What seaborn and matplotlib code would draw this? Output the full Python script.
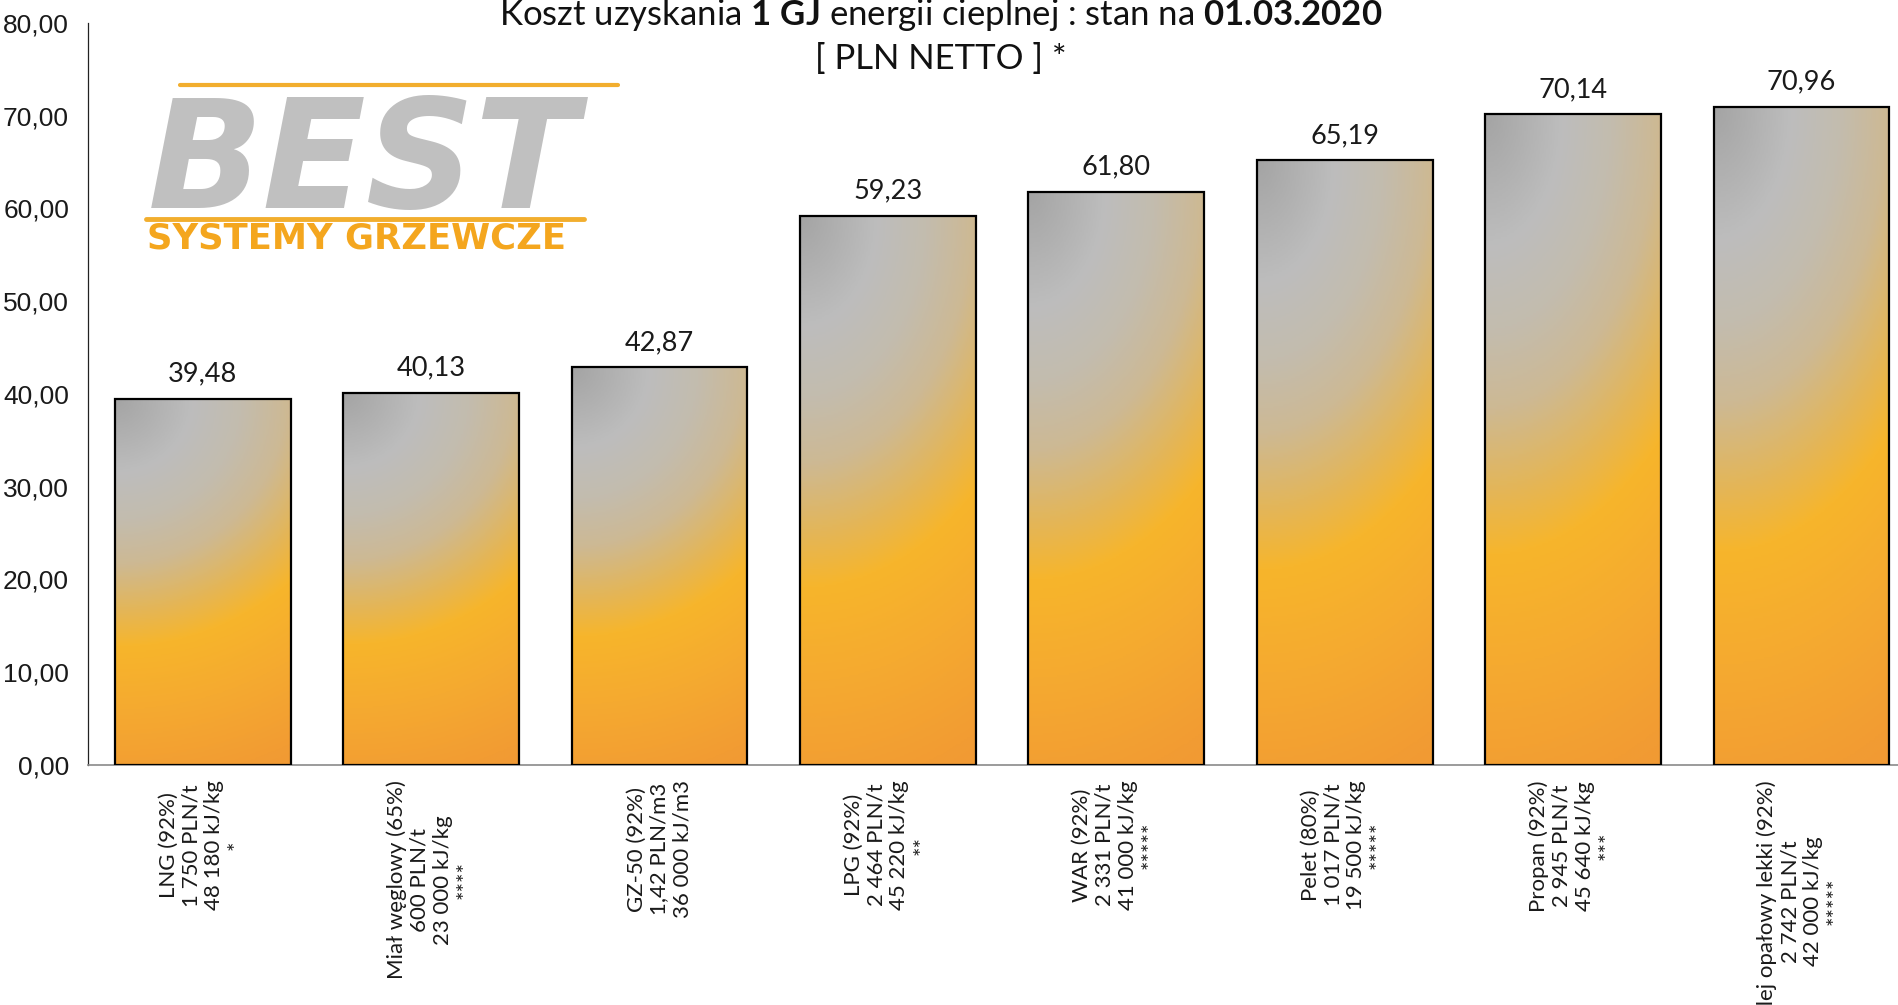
import numpy as np
import pandas as pd
import matplotlib
matplotlib.use("Agg")
import matplotlib.pyplot as plt
import seaborn as sns
from matplotlib.ticker import FuncFormatter, FixedLocator
from matplotlib.lines import Line2D
from matplotlib.colors import LinearSegmentedColormap

# ---------------- data ----------------
categories = [
    "LNG (92%)\n1 750 PLN/t\n48 180 kJ/kg\n*",
    "Miał węglowy (65%)\n600 PLN/t\n23 000 kJ/kg\n****",
    "GZ-50 (92%)\n1,42 PLN/m3\n36 000 kJ/m3",
    "LPG (92%)\n2 464 PLN/t\n45 220 kJ/kg\n**",
    "WAR (92%)\n2 331 PLN/t\n41 000 kJ/kg\n*****",
    "Pelet (80%)\n1 017 PLN/t\n19 500 kJ/kg\n*****",
    "Propan (92%)\n2 945 PLN/t\n45 640 kJ/kg\n***",
    "Olej opałowy lekki (92%)\n2 742 PLN/t\n42 000 kJ/kg\n*****",
]
values = [39.48, 40.13, 42.87, 59.23, 61.80, 65.19, 70.14, 70.96]
y_ticks = [0, 10, 20, 30, 40, 50, 60, 70, 80]
title_line1 = r"Koszt uzyskania $\mathbf{1\ GJ}$ energii cieplnej : stan na $\mathbf{01.03.2020}$"
title_line2 = "[ PLN NETTO ] *"
logo_big = "BEST"
logo_small = "SYSTEMY GRZEWCZE"

df = pd.DataFrame({"paliwo": categories, "koszt": values})

# ---------------- style ----------------
sns.set_theme(style="white")
plt.rcParams["font.family"] = ["Lato", "DejaVu Sans"]
plt.rcParams["mathtext.fontset"] = "custom"
plt.rcParams["mathtext.rm"] = "Lato"
plt.rcParams["mathtext.it"] = "Lato:italic"
plt.rcParams["mathtext.bf"] = "Lato:bold"

W, H = 1899, 1005
fig = plt.figure(figsize=(W / 100, H / 100), dpi=100, facecolor="white")

ax_left, ax_bottom_px, ax_top_px, cat_w = 88.5, 765.0, 23.0, 228.4
ax = fig.add_axes([ax_left / W, 1 - ax_bottom_px / H,
                   8 * cat_w / W, (ax_bottom_px - ax_top_px) / H])
ax.set_facecolor("white")

sns.barplot(data=df, x="paliwo", y="koszt", ax=ax, width=0.77,
            color="white", edgecolor="black", linewidth=1.6, saturation=1)

# gradient fill (radial-ish from top-left, grey -> orange)
stops = [
    (0.00, "#a4a4a4"),
    (0.20, "#bdbdbd"),
    (0.33, "#c3bcae"),
    (0.45, "#cdb994"),
    (0.57, "#e2b65c"),
    (0.68, "#f7b52b"),
    (0.85, "#f5aa30"),
    (1.05, "#f29c33"),
    (1.25, "#f09333"),
]
dmax = stops[-1][0]
cmap = LinearSegmentedColormap.from_list(
    "bestgrad", [(d / dmax, c) for d, c in stops])
ny, nx = 300, 120
yy, xx = np.mgrid[0:1:complex(0, ny), 0:1:complex(0, nx)]
dist = np.sqrt((0.46 * xx) ** 2 + yy ** 2) / dmax
grad_img = cmap(np.clip(dist, 0, 1))

for patch in ax.patches:
    x0 = patch.get_x()
    w = patch.get_width()
    h = patch.get_height()
    patch.set_facecolor("none")
    patch.set_zorder(3)
    im = ax.imshow(grad_img, extent=[x0, x0 + w, 0, h], aspect="auto",
                   origin="upper", interpolation="bilinear", zorder=2)
    im.set_clip_path(patch)
    ax.annotate(f"{h:.2f}".replace(".", ","), (x0 + w / 2, h),
                xytext=(0, 9), textcoords="offset points",
                ha="center", va="bottom", fontsize=19.5, color="#1a1a1a",
                family=["Lato", "DejaVu Sans"])

ax.set_xlim(-0.5, 7.5)
ax.set_ylim(0, 80)
ax.set_xlabel("")
ax.set_ylabel("")

# y axis
ax.yaxis.set_major_locator(FixedLocator(y_ticks))
ax.yaxis.set_major_formatter(FuncFormatter(lambda v, p: f"{v:.2f}".replace(".", ",")))
ax.tick_params(axis="y", which="major", direction="out", length=5, width=0.9,
               color="#444444", pad=9, labelsize=19, labelcolor="#1a1a1a")
for lab in ax.get_yticklabels():
    lab.set_family(["Liberation Sans Narrow", "Liberation Sans", "DejaVu Sans"])

# x axis
ax.set_xticks(range(len(categories)))
ax.set_xticklabels(categories, rotation=90, va="top", ha="center",
                   multialignment="center", fontsize=16, color="#1a1a1a",
                   linespacing=1.18)
ax.set_xticks(np.arange(-0.5, len(categories)), minor=True)
ax.tick_params(axis="x", which="major", length=0, pad=11)
ax.tick_params(axis="x", which="minor", direction="out", length=4, width=0.9,
               color="#888888")

for s in ["top", "right"]:
    ax.spines[s].set_visible(False)
ax.spines["left"].set_color("#222222")
ax.spines["left"].set_linewidth(0.9)
ax.spines["bottom"].set_color("#8a8a8a")
ax.spines["bottom"].set_linewidth(1.2)
ax.grid(False)

# title
fig.text(941 / W, 1 - 25 / H, title_line1, ha="center", va="baseline",
         fontsize=25, color="#111111")
fig.text(941 / W, 1 - 69 / H, title_line2, ha="center", va="baseline",
         fontsize=25, color="#111111")

# logo
orange = "#f2ae2e"
fig.add_artist(Line2D([180 / W, 618 / W], [1 - 85 / H, 1 - 85 / H],
                      transform=fig.transFigure, color=orange, linewidth=3))
fig.add_artist(Line2D([146 / W, 584 / W], [1 - 219 / H, 1 - 219 / H],
                      transform=fig.transFigure, color=orange, linewidth=3.5))
fig.text(148 / W, 1 - 208 / H, logo_big, ha="left", va="baseline",
         fontsize=109, fontweight="bold", style="oblique", color="#c0c0c0",
         family=["DejaVu Sans"])
fig.text(147 / W, 1 - 248 / H, logo_small, ha="left", va="baseline",
         fontsize=25.5, fontweight="bold", color="#f4a61e",
         family=["DejaVu Sans"])

fig.savefig("out.png", dpi=100, facecolor="white")
